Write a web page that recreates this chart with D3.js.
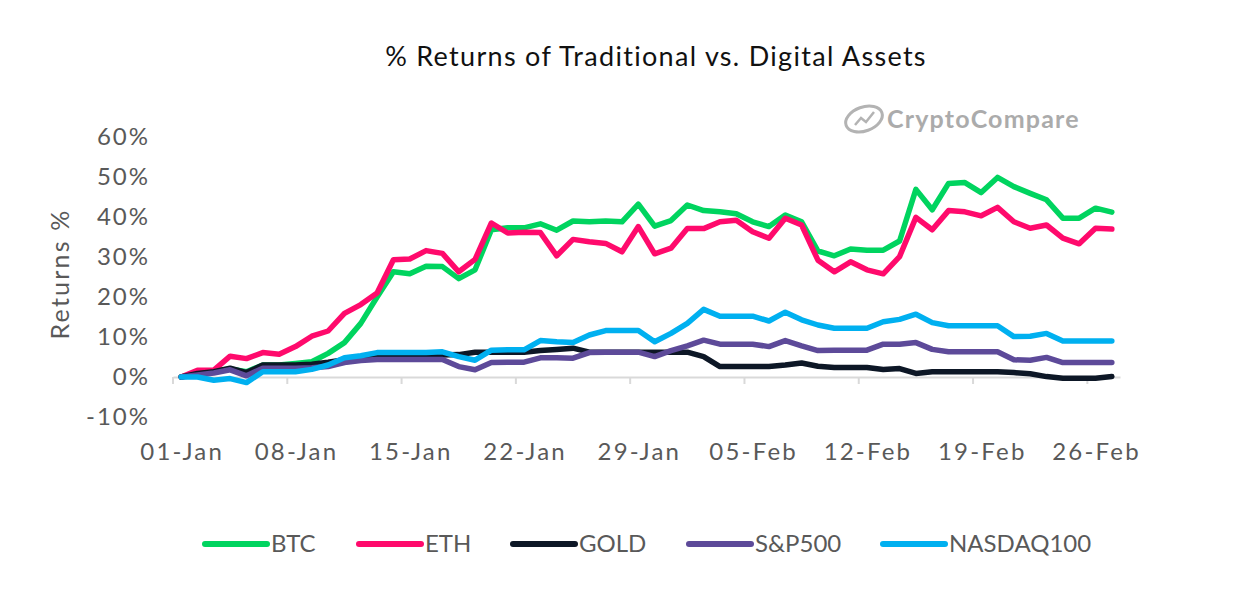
<!DOCTYPE html>
<html>
<head>
<meta charset="utf-8">
<script src="https://cdnjs.cloudflare.com/ajax/libs/d3/7.8.5/d3.min.js"></script>
<style>
  body { margin: 0; background: #fff; }
  svg text { font-family: Lato, "Open Sans", sans-serif; font-variant-ligatures: none; }
</style>
</head>
<body>
<div id="chart"></div>
<script>
// --- data ---
var dates = [
  "01-Jan","02-Jan","03-Jan","04-Jan","05-Jan","06-Jan","07-Jan","08-Jan","09-Jan","10-Jan",
  "11-Jan","12-Jan","13-Jan","14-Jan","15-Jan","16-Jan","17-Jan","18-Jan","19-Jan","20-Jan",
  "21-Jan","22-Jan","23-Jan","24-Jan","25-Jan","26-Jan","27-Jan","28-Jan","29-Jan","30-Jan",
  "31-Jan","01-Feb","02-Feb","03-Feb","04-Feb","05-Feb","06-Feb","07-Feb","08-Feb","09-Feb",
  "10-Feb","11-Feb","12-Feb","13-Feb","14-Feb","15-Feb","16-Feb","17-Feb","18-Feb","19-Feb",
  "20-Feb","21-Feb","22-Feb","23-Feb","24-Feb","25-Feb","26-Feb","27-Feb"
];
var tickLabels = ["01-Jan","08-Jan","15-Jan","22-Jan","29-Jan","05-Feb","12-Feb","19-Feb","26-Feb"];
var yTicks = [-10, 0, 10, 20, 30, 40, 50, 60];

var btc = [0,1,1.5,2,1.3,3,3,3.4,3.8,5.9,
  8.6,13.4,20,26.3,25.8,27.7,27.6,24.6,26.8,36.8,
  37.3,37.3,38.3,36.7,39,38.8,39,38.8,43.2,37.7,
  39.1,43,41.6,41.3,40.8,38.8,37.6,40.5,38.8,31.5,
  30.3,32,31.7,31.7,34,46.9,41.8,48.4,48.6,46.1,
  49.9,47.6,45.9,44.3,39.7,39.7,42.2,41.2];
var eth = [0,1.7,1.7,5.2,4.6,6.1,5.7,7.6,10.2,11.5,
  15.9,18.1,21,29.3,29.5,31.6,30.9,26.3,29.4,38.5,
  36,36.2,36.1,30.3,34.4,33.8,33.4,31.3,37.6,30.8,
  32.2,37.1,37.1,38.8,39.2,36.3,34.7,39.7,38,29.2,
  26.3,28.8,26.8,25.8,30.1,39.9,36.8,41.6,41.3,40.3,
  42.4,38.8,37.2,38,34.7,33.3,37.2,37];
var gold = [0,0.9,1.3,2.2,1.1,3,3,3,3.2,3.7,
  4.3,5,5.4,5.6,5.6,5.6,5.5,5.6,6.2,6.2,
  6.2,6.2,6.6,6.9,7.2,6.2,6.2,6.2,6.2,6.2,
  6.2,6.2,5.1,2.6,2.6,2.6,2.6,3,3.5,2.7,
  2.4,2.4,2.4,1.9,2.1,0.9,1.3,1.3,1.3,1.3,
  1.3,1.1,0.8,0.1,-0.3,-0.3,-0.3,0.1];
var sp500 = [0,0.5,1,1.8,0.3,2.2,2.2,2.2,2.3,2.6,
  3.6,4.1,4.4,4.4,4.4,4.4,4.4,2.6,1.8,3.6,
  3.7,3.7,4.8,4.8,4.7,6.1,6.2,6.2,6.2,5.1,
  6.6,7.8,9.2,8.2,8.2,8.2,7.6,9.1,7.8,6.6,
  6.7,6.7,6.7,8.2,8.2,8.6,6.9,6.3,6.3,6.3,
  6.3,4.3,4.2,4.9,3.6,3.6,3.6,3.6];
var nasdaq = [0,0,-0.8,-0.4,-1.4,1.3,1.3,1.3,1.9,3,
  4.8,5.3,6.1,6.1,6.1,6.1,6.3,5.1,4.2,6.7,
  6.8,6.8,9.1,8.8,8.6,10.5,11.6,11.6,11.6,8.8,
  10.9,13.4,16.9,15.2,15.2,15.2,14,16.2,14.3,13,
  12.2,12.2,12.2,13.8,14.4,15.7,13.6,12.8,12.8,12.8,
  12.8,10.1,10.2,10.9,9,9,9,9];

var seriesNames = ["BTC","ETH","GOLD","S&P500","NASDAQ100"];
var seriesColors = ["#00d45f","#ff0a6c","#0d1726","#5d4a99","#00b0f0"];
var seriesValues = [btc, eth, gold, sp500, nasdaq];

// --- chart ---
var width = 1233, height = 591;
var svg = d3.select("#chart").append("svg")
  .attr("width", width).attr("height", height);

var x = d3.scaleBand().domain(dates).range([173, 1120]).padding(0);
var y = d3.scaleLinear().domain([-10, 60]).range([417, 137]);
var textColor = "#595959";

svg.append("text")
  .attr("x", 656).attr("y", 66)
  .attr("text-anchor", "middle")
  .style("font-size", "27px").style("fill", "#111")
  .style("letter-spacing", "1.3px")
  .text("% Returns of Traditional vs. Digital Assets");

// watermark
var wm = svg.append("g").attr("transform", "translate(864,119)");
wm.append("ellipse").attr("rx", 19).attr("ry", 12)
  .attr("fill", "none").attr("stroke", "#b3b3b3").attr("stroke-width", 3)
  .attr("transform", "rotate(-20)");
wm.append("path").attr("d", "M-9,6 L-3,-1 L2,3 L10,-7")
  .attr("fill", "none").attr("stroke", "#b3b3b3").attr("stroke-width", 2.5);
wm.append("text").attr("x", 23).attr("y", 9)
  .style("font-size", "25px").style("font-weight", "bold").style("fill", "#ababab")
  .style("letter-spacing", "1.2px")
  .text("CryptoCompare");

// y axis labels
svg.append("g").selectAll("text").data(yTicks).enter().append("text")
  .attr("x", 150).attr("y", function(d) { return y(d); })
  .attr("dy", "0.35em").attr("text-anchor", "end")
  .style("font-size", "24px").style("fill", textColor)
  .style("letter-spacing", "2px")
  .text(function(d) { return d + "%"; });

svg.append("text")
  .attr("transform", "translate(69,274) rotate(-90)")
  .attr("text-anchor", "middle")
  .style("font-size", "25px").style("fill", textColor)
  .style("letter-spacing", "2.2px")
  .text("Returns %");

// x axis
var xAxis = d3.axisBottom(x)
  .tickValues(tickLabels)
  .tickSize(0)
  .tickFormat(function(d) { return d; });
var gx = svg.append("g").attr("transform", "translate(0," + y(0) + ")").call(xAxis);
gx.select(".domain").attr("stroke", "#d9d9d9").attr("stroke-width", 2);
gx.selectAll(".tick text")
  .attr("y", 75).attr("dy", "0.35em").attr("dx", "1px")
  .style("font-size", "24px").style("fill", textColor)
  .style("font-family", "Lato, sans-serif").style("letter-spacing", "2.2px");
gx.selectAll(".tick").append("line")
  .attr("x1", -x.bandwidth() / 2).attr("x2", -x.bandwidth() / 2)
  .attr("y1", 0).attr("y2", 7)
  .attr("stroke", "#d9d9d9").attr("stroke-width", 2);

// lines
var line = d3.line()
  .x(function(d, i) { return x(dates[i]) + x.bandwidth() / 2; })
  .y(function(d) { return y(d); });

svg.append("g").selectAll("path").data(seriesValues).enter().append("path")
  .attr("d", function(d) { return line(d); })
  .attr("fill", "none")
  .attr("stroke", function(d, i) { return seriesColors[i]; })
  .attr("stroke-width", 5.5)
  .attr("stroke-linejoin", "round")
  .attr("stroke-linecap", "round");

// legend
var legendX = [205, 359, 513, 689, 883];
var lg = svg.append("g").selectAll("g").data(seriesNames).enter().append("g")
  .attr("transform", function(d, i) { return "translate(" + legendX[i] + ",544)"; });
lg.append("line").attr("x1", 0).attr("x2", 62)
  .attr("stroke", function(d, i) { return seriesColors[i]; })
  .attr("stroke-width", 6).attr("stroke-linecap", "round");
lg.append("text").attr("x", 66).attr("dy", "0.35em")
  .style("font-size", "24px").style("fill", textColor)
  .text(function(d) { return d; });
</script>
</body>
</html>
